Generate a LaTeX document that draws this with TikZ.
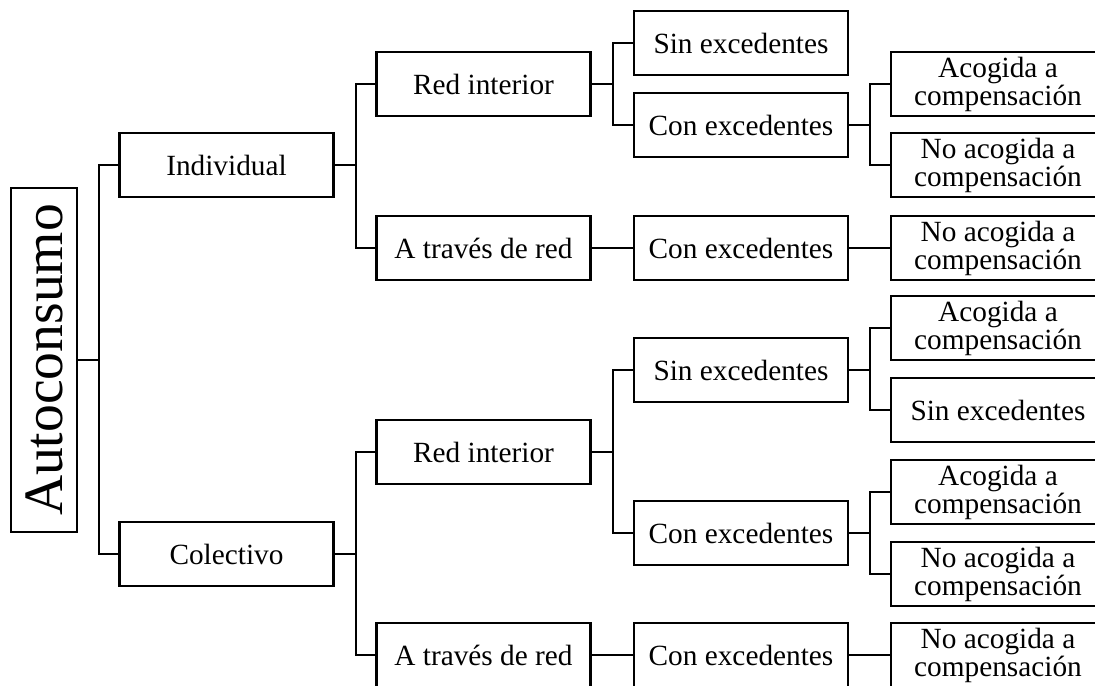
\documentclass[tikz,border=0pt]{standalone}
\usepackage{fontspec}
\setmainfont{Liberation Serif}

\tikzset{
  caja/.style={draw, line width=1.2pt, minimum width=107pt, minimum height=32pt,
    inner sep=0pt, align=center, font=\fontsize{14.65}{14}\selectfont},
  raiz/.style={draw, line width=1.2pt, rotate=90, minimum width=172pt, minimum height=33pt,
    inner sep=0pt, font=\fontsize{27.8}{30}\selectfont},
  rama/.style={line width=1.2pt}
}

\begin{document}
\begin{tikzpicture}[x=0.5pt,y=-0.5pt]
\useasboundingbox (0,0) rectangle (1095,685);
\clip (0,0) rectangle (1095,685);
% raiz (girada: su lado derecho es .south)
\node[raiz] (auto) at (44,360) {Autoconsumo};
% nivel 1
\node[caja] (ind) at (226.5,165) {Individual};
\node[caja] (col) at (226.5,554) {Colectivo};
% nivel 2
\node[caja] (ri1) at (483.5,84) {Red interior};
\node[caja] (at1) at (483.5,248) {A través de red};
\node[caja] (ri2) at (483.5,452) {Red interior};
\node[caja] (at2) at (483.5,655) {A través de red};
% nivel 3
\node[caja] (se1) at (741,43) {Sin excedentes};
\node[caja] (ce1) at (741,125) {Con excedentes};
\node[caja] (ce2) at (741,248) {Con excedentes};
\node[caja] (se3) at (741,370) {Sin excedentes};
\node[caja] (ce3) at (741,533) {Con excedentes};
\node[caja] (ce4) at (741,655) {Con excedentes};
% nivel 4
\node[caja] (ac1) at (998,84) {Acogida a\\compensación};
\node[caja] (no1) at (998,165) {No acogida a\\compensación};
\node[caja] (no2) at (998,248) {No acogida a\\compensación};
\node[caja] (ac2) at (998,328) {Acogida a\\compensación};
\node[caja] (se4) at (998,410) {Sin excedentes};
\node[caja] (ac3) at (998,492) {Acogida a\\compensación};
\node[caja] (no3) at (998,574) {No acogida a\\compensación};
\node[caja] (no4) at (998,655) {No acogida a\\compensación};

% ramas
\foreach \p/\a/\b in {auto.south/ind/col, ind.east/ri1/at1, col.east/ri2/at2,
  ri1.east/se1/ce1, ce1.east/ac1/no1, ri2.east/se3/ce3, se3.east/ac2/se4,
  ce3.east/ac3/no3}
{
  \draw[rama] (\p) -- ++(21,0) coordinate (m);
  \draw[rama] (\a.west) -| (m) |- (\b.west);
}
\foreach \p/\h in {at1/ce2, ce2/no2, at2/ce4, ce4/no4}
  \draw[rama] (\p.east) -- (\h.west);
\end{tikzpicture}
\end{document}
